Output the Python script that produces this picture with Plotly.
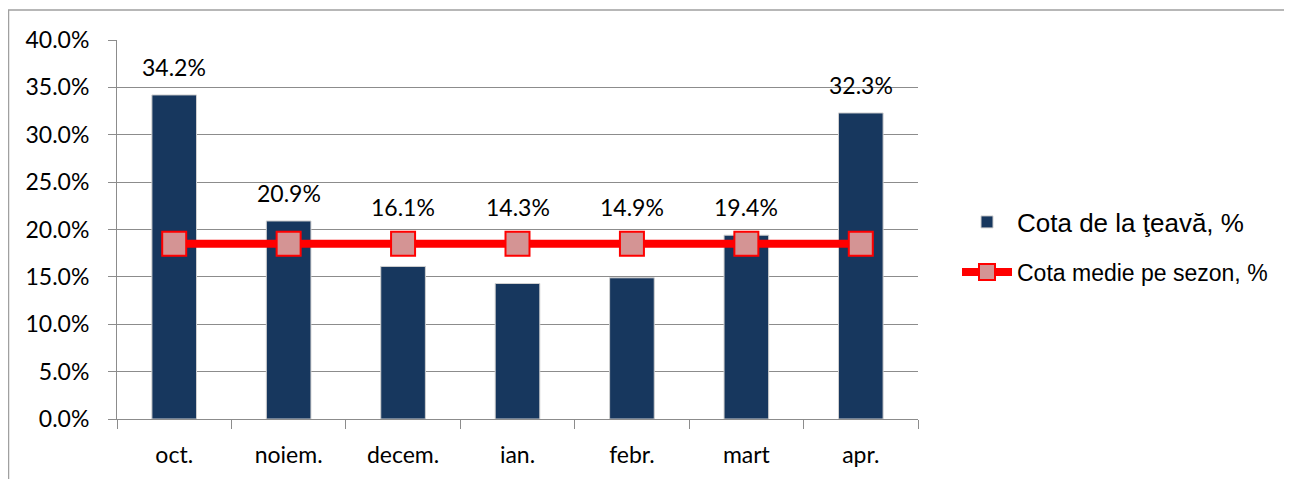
import plotly.graph_objects as go

months = ["oct.", "noiem.", "decem.", "ian.", "febr.", "mart", "apr."]
share_pipe = [34.2, 20.9, 16.1, 14.3, 14.9, 19.4, 32.3]
season_avg = [18.5, 18.5, 18.5, 18.5, 18.5, 18.5, 18.5]
y_ticks = [0, 5, 10, 15, 20, 25, 30, 35, 40]
y_tick_labels = [f"{v:.1f}%" for v in y_ticks]

# page has an 8px body margin; work in figure coordinates
W, H = 1284, 471
L, R, T, B = 109, 910, 32, 411

FONT = "Lato, Open Sans, sans-serif"
LFONT = "Arial, Liberation Sans, sans-serif"

fig = go.Figure()
fig.add_trace(go.Bar(
    x=months, y=share_pipe, name="Cota de la ţeavă, %",
    marker=dict(color="#17375E", line=dict(color="#D0D0D0", width=1)),
    legend="legend",
))
fig.add_trace(go.Scatter(
    x=months, y=season_avg, name="Cota medie pe sezon, %", mode="lines+markers",
    line=dict(color="#FF0000", width=8),
    marker=dict(symbol="square", size=24, color="#D49494", line=dict(color="#FF0000", width=2)),
    legend="legend2",
))

annotations = []
for m, v, a in zip(months, share_pipe, season_avg):
    annotations.append(dict(
        x=m, y=max(v, a + 0.9), xref="x", yref="y", text=f"{v:.1f}%",
        showarrow=False, yanchor="middle", yshift=28,
        font=dict(family=FONT, size=23, color="#000"),
    ))

def px(v):
    return (v - L) / (R - L)

def py(v):
    return (B - v) / (B - T)

fig.update_layout(
    width=W, height=H,
    margin=dict(l=L, r=W - R, t=T, b=H - B),
    plot_bgcolor="white", paper_bgcolor="white",
    bargap=0.61,
    showlegend=True,
    annotations=annotations,
    legend=dict(x=px(949), y=py(214), xanchor="left", yanchor="middle",
                font=dict(family=LFONT, size=26, color="#000"),
                bgcolor="rgba(0,0,0,0)", itemwidth=50),
    legend2=dict(x=px(949), y=py(264), xanchor="left", yanchor="middle",
                 font=dict(family=LFONT, size=23, color="#000"),
                 bgcolor="rgba(0,0,0,0)", itemwidth=50),
    xaxis=dict(
        showline=True, linecolor="#8C8C8C", linewidth=1,
        ticks="outside", tickson="boundaries", ticklen=9, tickcolor="#8C8C8C",
        tickfont=dict(family=FONT, size=23, color="#000"),
        ticklabelstandoff=15,
        showgrid=False,
    ),
    yaxis=dict(
        range=[0, 40], tickvals=y_ticks, ticktext=y_tick_labels,
        showline=True, linecolor="#8C8C8C", linewidth=1,
        ticks="outside", ticklen=8, tickcolor="#8C8C8C",
        tickfont=dict(family=FONT, size=23, color="#000"),
        ticklabelstandoff=14,
        showgrid=True, gridcolor="#8C8C8C", gridwidth=1,
        zeroline=False,
    ),
    shapes=[dict(type="rect", xref="paper", yref="paper",
                 x0=px(0.5), x1=px(1282), y0=py(H + 5), y1=py(2),
                 line=dict(color="#A0A0A0", width=1.5), fillcolor="rgba(0,0,0,0)", layer="below")],
)

fig.write_html("out.html")
